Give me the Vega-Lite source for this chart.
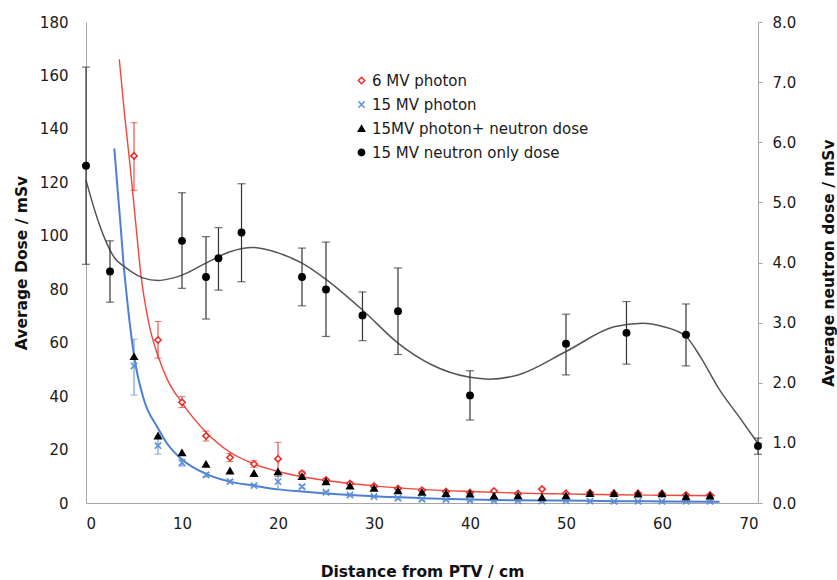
{
  "$schema": "https://vega.github.io/schema/vega-lite/v6.json",
  "width": 672,
  "height": 481,
  "autosize": {"type": "none"},
  "padding": {"left": 86, "top": 22, "right": 79, "bottom": 77},
  "background": "white",
  "config": {
    "view": {"stroke": null},
    "font": "DejaVu Sans",
    "axis": {
      "grid": false,
      "domainColor": "#a6a6a6",
      "labelColor": "#1a1a1a",
      "labelFontSize": 15,
      "titleFontSize": 15.5,
      "titleFontWeight": "bold",
      "titleColor": "#111111",
      "tickColor": "#a6a6a6"
    },
    "legend": {
      "orient": "none",
      "legendX": 268,
      "legendY": 51,
      "title": null,
      "labelFontSize": 15,
      "labelColor": "#1a1a1a",
      "labelOffset": 3,
      "labelLimit": 0,
      "rowPadding": 8,
      "symbolSize": 40,
      "symbolStrokeWidth": 1.5
    }
  },
  "datasets": {
    "pts": [
      {"s": "6 MV photon", "x": 5, "y": 129.9, "lo": 117, "hi": 142.3},
      {"s": "6 MV photon", "x": 7.5, "y": 61, "lo": 54.2, "hi": 67.9},
      {"s": "6 MV photon", "x": 10, "y": 37.7, "lo": 35.7, "hi": 39.8},
      {"s": "6 MV photon", "x": 12.5, "y": 25.1, "lo": 23.2, "hi": 26.9},
      {"s": "6 MV photon", "x": 15, "y": 17.0, "lo": 15.5, "hi": 18.5},
      {"s": "6 MV photon", "x": 17.5, "y": 14.6, "lo": 13.4, "hi": 15.8},
      {"s": "6 MV photon", "x": 20, "y": 16.5, "lo": 10, "hi": 22.7},
      {"s": "6 MV photon", "x": 22.5, "y": 11.1, "lo": 10.3, "hi": 11.9},
      {"s": "6 MV photon", "x": 25, "y": 8.6, "lo": 8.0, "hi": 9.2},
      {"s": "6 MV photon", "x": 27.5, "y": 7.3, "lo": 6.8, "hi": 7.8},
      {"s": "6 MV photon", "x": 30, "y": 6.3, "lo": 5.8, "hi": 6.8},
      {"s": "6 MV photon", "x": 32.5, "y": 5.4, "lo": 5.0, "hi": 5.8},
      {"s": "6 MV photon", "x": 35, "y": 4.8, "lo": 4.4, "hi": 5.2},
      {"s": "6 MV photon", "x": 37.5, "y": 4.3, "lo": 4.0, "hi": 4.6},
      {"s": "6 MV photon", "x": 40, "y": 3.9, "lo": 3.6, "hi": 4.2},
      {"s": "6 MV photon", "x": 42.5, "y": 4.5, "lo": 4.2, "hi": 4.8},
      {"s": "6 MV photon", "x": 45, "y": 3.5, "lo": 3.2, "hi": 3.8},
      {"s": "6 MV photon", "x": 47.5, "y": 5.2, "lo": 4.9, "hi": 5.5},
      {"s": "6 MV photon", "x": 50, "y": 3.6, "lo": 3.3, "hi": 3.9},
      {"s": "6 MV photon", "x": 52.5, "y": 3.8, "lo": 3.5, "hi": 4.1},
      {"s": "6 MV photon", "x": 55, "y": 3.6, "lo": 3.3, "hi": 3.9},
      {"s": "6 MV photon", "x": 57.5, "y": 3.6, "lo": 3.3, "hi": 3.9},
      {"s": "6 MV photon", "x": 60, "y": 3.5, "lo": 3.2, "hi": 3.8},
      {"s": "6 MV photon", "x": 62.5, "y": 3.0, "lo": 2.7, "hi": 3.3},
      {"s": "6 MV photon", "x": 65, "y": 3.0, "lo": 2.7, "hi": 3.3},
      {"s": "15 MV photon", "x": 5, "y": 51.3, "lo": 40.4, "hi": 61.3},
      {"s": "15 MV photon", "x": 7.5, "y": 21.5, "lo": 18.3, "hi": 25.1},
      {"s": "15 MV photon", "x": 10, "y": 15.1, "lo": 13.8, "hi": 16.4},
      {"s": "15 MV photon", "x": 12.5, "y": 10.5, "lo": 9.8, "hi": 11.3},
      {"s": "15 MV photon", "x": 15, "y": 8.0, "lo": 7.5, "hi": 8.6},
      {"s": "15 MV photon", "x": 17.5, "y": 6.5, "lo": 6.1, "hi": 6.9},
      {"s": "15 MV photon", "x": 20, "y": 8.0, "lo": 5.0, "hi": 10.0},
      {"s": "15 MV photon", "x": 22.5, "y": 6.1, "lo": 5.6, "hi": 6.6},
      {"s": "15 MV photon", "x": 25, "y": 4.0, "lo": 3.7, "hi": 4.3},
      {"s": "15 MV photon", "x": 27.5, "y": 3.0, "lo": 2.7, "hi": 3.3},
      {"s": "15 MV photon", "x": 30, "y": 2.4, "lo": 2.1, "hi": 2.7},
      {"s": "15 MV photon", "x": 32.5, "y": 1.8, "lo": 1.5, "hi": 2.1},
      {"s": "15 MV photon", "x": 35, "y": 1.4, "lo": 1.1, "hi": 1.7},
      {"s": "15 MV photon", "x": 37.5, "y": 1.3, "lo": 1.0, "hi": 1.6},
      {"s": "15 MV photon", "x": 40, "y": 0.9, "lo": 0.6, "hi": 1.2},
      {"s": "15 MV photon", "x": 42.5, "y": 0.8, "lo": 0.5, "hi": 1.1},
      {"s": "15 MV photon", "x": 45, "y": 0.8, "lo": 0.5, "hi": 1.1},
      {"s": "15 MV photon", "x": 47.5, "y": 0.7, "lo": 0.4, "hi": 1.0},
      {"s": "15 MV photon", "x": 50, "y": 0.8, "lo": 0.5, "hi": 1.1},
      {"s": "15 MV photon", "x": 52.5, "y": 0.7, "lo": 0.4, "hi": 1.0},
      {"s": "15 MV photon", "x": 55, "y": 0.6, "lo": 0.3, "hi": 0.9},
      {"s": "15 MV photon", "x": 57.5, "y": 0.6, "lo": 0.3, "hi": 0.9},
      {"s": "15 MV photon", "x": 60, "y": 0.6, "lo": 0.3, "hi": 0.9},
      {"s": "15 MV photon", "x": 62.5, "y": 0.6, "lo": 0.3, "hi": 0.9},
      {"s": "15 MV photon", "x": 65, "y": 0.6, "lo": 0.3, "hi": 0.9},
      {"s": "15MV photon+ neutron dose", "x": 5, "y": 54.8},
      {"s": "15MV photon+ neutron dose", "x": 7.5, "y": 25.1},
      {"s": "15MV photon+ neutron dose", "x": 10, "y": 18.8},
      {"s": "15MV photon+ neutron dose", "x": 12.5, "y": 14.5},
      {"s": "15MV photon+ neutron dose", "x": 15, "y": 12.0},
      {"s": "15MV photon+ neutron dose", "x": 17.5, "y": 11.1},
      {"s": "15MV photon+ neutron dose", "x": 20, "y": 11.7},
      {"s": "15MV photon+ neutron dose", "x": 22.5, "y": 9.9},
      {"s": "15MV photon+ neutron dose", "x": 25, "y": 8.0},
      {"s": "15MV photon+ neutron dose", "x": 27.5, "y": 6.4},
      {"s": "15MV photon+ neutron dose", "x": 30, "y": 5.5},
      {"s": "15MV photon+ neutron dose", "x": 32.5, "y": 4.6},
      {"s": "15MV photon+ neutron dose", "x": 35, "y": 4.0},
      {"s": "15MV photon+ neutron dose", "x": 37.5, "y": 3.6},
      {"s": "15MV photon+ neutron dose", "x": 40, "y": 3.4},
      {"s": "15MV photon+ neutron dose", "x": 42.5, "y": 2.6},
      {"s": "15MV photon+ neutron dose", "x": 45, "y": 2.7},
      {"s": "15MV photon+ neutron dose", "x": 47.5, "y": 2.1},
      {"s": "15MV photon+ neutron dose", "x": 50, "y": 2.7},
      {"s": "15MV photon+ neutron dose", "x": 52.5, "y": 3.6},
      {"s": "15MV photon+ neutron dose", "x": 55, "y": 3.6},
      {"s": "15MV photon+ neutron dose", "x": 57.5, "y": 3.4},
      {"s": "15MV photon+ neutron dose", "x": 60, "y": 3.5},
      {"s": "15MV photon+ neutron dose", "x": 62.5, "y": 2.4},
      {"s": "15MV photon+ neutron dose", "x": 65, "y": 2.6}
    ],
    "neutron": [
      {"s": "15 MV neutron only dose", "x": 0, "y": 5.61, "lo": 3.97, "hi": 7.25},
      {"s": "15 MV neutron only dose", "x": 2.5, "y": 3.85, "lo": 3.34, "hi": 4.36},
      {"s": "15 MV neutron only dose", "x": 10, "y": 4.36, "lo": 3.57, "hi": 5.16},
      {"s": "15 MV neutron only dose", "x": 12.5, "y": 3.76, "lo": 3.06, "hi": 4.43},
      {"s": "15 MV neutron only dose", "x": 13.8, "y": 4.07, "lo": 3.54, "hi": 4.58},
      {"s": "15 MV neutron only dose", "x": 16.2, "y": 4.50, "lo": 3.68, "hi": 5.31},
      {"s": "15 MV neutron only dose", "x": 22.5, "y": 3.76, "lo": 3.28, "hi": 4.24},
      {"s": "15 MV neutron only dose", "x": 25, "y": 3.55, "lo": 2.77, "hi": 4.34},
      {"s": "15 MV neutron only dose", "x": 28.8, "y": 3.12, "lo": 2.70, "hi": 3.51},
      {"s": "15 MV neutron only dose", "x": 32.5, "y": 3.19, "lo": 2.47, "hi": 3.91},
      {"s": "15 MV neutron only dose", "x": 40, "y": 1.79, "lo": 1.38, "hi": 2.20},
      {"s": "15 MV neutron only dose", "x": 50, "y": 2.65, "lo": 2.13, "hi": 3.14},
      {"s": "15 MV neutron only dose", "x": 56.3, "y": 2.83, "lo": 2.31, "hi": 3.35},
      {"s": "15 MV neutron only dose", "x": 62.5, "y": 2.80, "lo": 2.28, "hi": 3.31},
      {"s": "15 MV neutron only dose", "x": 70, "y": 0.95, "lo": 0.81, "hi": 1.08}
    ],
    "fits": [
      {"s": "6 MV photon", "x": 3.47, "y": 166},
      {"s": "6 MV photon", "x": 4.0, "y": 146},
      {"s": "6 MV photon", "x": 4.6, "y": 126},
      {"s": "6 MV photon", "x": 5.2, "y": 104},
      {"s": "6 MV photon", "x": 5.7, "y": 86},
      {"s": "6 MV photon", "x": 6.5, "y": 68},
      {"s": "6 MV photon", "x": 7.5, "y": 55},
      {"s": "6 MV photon", "x": 8.5, "y": 46},
      {"s": "6 MV photon", "x": 10, "y": 37.5},
      {"s": "6 MV photon", "x": 12.5, "y": 26.5},
      {"s": "6 MV photon", "x": 15, "y": 19},
      {"s": "6 MV photon", "x": 17.5, "y": 14.6},
      {"s": "6 MV photon", "x": 20, "y": 11.8},
      {"s": "6 MV photon", "x": 22.5, "y": 9.8},
      {"s": "6 MV photon", "x": 25, "y": 8.4},
      {"s": "6 MV photon", "x": 30, "y": 6.4},
      {"s": "6 MV photon", "x": 35, "y": 5.1},
      {"s": "6 MV photon", "x": 40, "y": 4.3},
      {"s": "6 MV photon", "x": 45, "y": 3.7},
      {"s": "6 MV photon", "x": 50, "y": 3.4},
      {"s": "6 MV photon", "x": 55, "y": 3.1},
      {"s": "6 MV photon", "x": 60, "y": 2.9},
      {"s": "6 MV photon", "x": 65.5, "y": 2.7},
      {"s": "15 MV photon", "x": 2.95, "y": 132.7},
      {"s": "15 MV photon", "x": 3.3, "y": 117},
      {"s": "15 MV photon", "x": 3.6, "y": 104},
      {"s": "15 MV photon", "x": 3.9, "y": 90},
      {"s": "15 MV photon", "x": 4.2, "y": 79},
      {"s": "15 MV photon", "x": 4.6, "y": 66},
      {"s": "15 MV photon", "x": 5.1, "y": 53},
      {"s": "15 MV photon", "x": 6.0, "y": 39},
      {"s": "15 MV photon", "x": 7.5, "y": 28},
      {"s": "15 MV photon", "x": 8.5, "y": 22},
      {"s": "15 MV photon", "x": 10, "y": 16.3},
      {"s": "15 MV photon", "x": 12.5, "y": 10.9},
      {"s": "15 MV photon", "x": 15, "y": 8.0},
      {"s": "15 MV photon", "x": 17.5, "y": 6.5},
      {"s": "15 MV photon", "x": 20, "y": 5.1},
      {"s": "15 MV photon", "x": 22.5, "y": 4.3},
      {"s": "15 MV photon", "x": 25, "y": 3.6},
      {"s": "15 MV photon", "x": 30, "y": 2.5},
      {"s": "15 MV photon", "x": 35, "y": 1.8},
      {"s": "15 MV photon", "x": 40, "y": 1.3},
      {"s": "15 MV photon", "x": 45, "y": 1.0},
      {"s": "15 MV photon", "x": 50, "y": 0.9},
      {"s": "15 MV photon", "x": 55, "y": 0.7},
      {"s": "15 MV photon", "x": 60, "y": 0.6},
      {"s": "15 MV photon", "x": 66, "y": 0.5}
    ],
    "nfit": [
      {"x": 0, "y": 5.37},
      {"x": 1, "y": 4.82},
      {"x": 2, "y": 4.38},
      {"x": 3, "y": 4.07},
      {"x": 4, "y": 3.93},
      {"x": 5, "y": 3.82},
      {"x": 6, "y": 3.74},
      {"x": 7.5, "y": 3.70},
      {"x": 9, "y": 3.74},
      {"x": 10, "y": 3.79},
      {"x": 12.5, "y": 3.99},
      {"x": 15, "y": 4.18},
      {"x": 17.4, "y": 4.25},
      {"x": 20, "y": 4.16},
      {"x": 22.5, "y": 3.99},
      {"x": 25, "y": 3.72},
      {"x": 28.8, "y": 3.21},
      {"x": 32.5, "y": 2.66},
      {"x": 36, "y": 2.30},
      {"x": 40, "y": 2.09},
      {"x": 42, "y": 2.06},
      {"x": 45, "y": 2.13},
      {"x": 50, "y": 2.52},
      {"x": 55, "y": 2.93},
      {"x": 58, "y": 2.99},
      {"x": 60, "y": 2.94},
      {"x": 62.5, "y": 2.77},
      {"x": 64, "y": 2.43},
      {"x": 66, "y": 1.88},
      {"x": 68, "y": 1.44},
      {"x": 70, "y": 0.99}
    ]
  },
  "layer": [
    {
      "layer": [
        {
          "data": {"name": "fits"},
          "transform": [{"filter": "datum.s == '6 MV photon'"}],
          "mark": {"type": "line", "color": "#f0463c", "strokeWidth": 1.4, "interpolate": "monotone"},
          "encoding": {
            "x": {"field": "x", "type": "quantitative", "title": "Distance from PTV / cm", "scale": {"domain": [0, 70], "nice": false},
              "axis": {"values": [0, 10, 20, 30, 40, 50, 60, 70], "ticks": false, "labelPadding": 13, "titlePadding": 33}},
            "y": {"field": "y", "type": "quantitative", "title": "Average Dose / mSv", "scale": {"domain": [0, 180], "nice": false},
              "axis": {"orient": "left", "values": [0, 20, 40, 60, 80, 100, 120, 140, 160, 180], "ticks": false, "labelPadding": 18, "titlePadding": 10}}
          }
        },
        {
          "data": {"name": "fits"},
          "transform": [{"filter": "datum.s == '15 MV photon'"}],
          "mark": {"type": "line", "color": "#4d80d2", "strokeWidth": 2, "interpolate": "monotone"},
          "encoding": {
            "x": {"field": "x", "type": "quantitative", "title": "Distance from PTV / cm"},
            "y": {"field": "y", "type": "quantitative", "title": "Average Dose / mSv"}
          }
        },
        {
          "data": {"name": "pts"},
          "transform": [{"filter": "datum.s == '6 MV photon'"}],
          "mark": {"type": "errorbar", "color": "#e8302a", "thickness": 1, "ticks": {"size": 7}},
          "encoding": {
            "x": {"field": "x", "type": "quantitative", "title": "Distance from PTV / cm"},
            "y": {"field": "lo", "type": "quantitative", "title": "Average Dose / mSv"},
            "y2": {"field": "hi"}
          }
        },
        {
          "data": {"name": "pts"},
          "transform": [{"filter": "datum.s == '15 MV photon'"}],
          "mark": {"type": "errorbar", "color": "#5b8fd8", "thickness": 1, "ticks": {"size": 7}},
          "encoding": {
            "x": {"field": "x", "type": "quantitative", "title": "Distance from PTV / cm"},
            "y": {"field": "lo", "type": "quantitative", "title": "Average Dose / mSv"},
            "y2": {"field": "hi"}
          }
        },
        {
          "data": {"name": "pts"},
          "mark": {"type": "point", "filled": false, "strokeWidth": 1.6, "size": 40, "opacity": 1},
          "encoding": {
            "x": {"field": "x", "type": "quantitative", "title": "Distance from PTV / cm"},
            "y": {"field": "y", "type": "quantitative", "title": "Average Dose / mSv"},
            "shape": {"field": "s", "type": "nominal",
              "scale": {"domain": ["6 MV photon", "15 MV photon", "15MV photon+ neutron dose", "15 MV neutron only dose"],
                "range": ["diamond", "M-1,-1L1,1M-1,1L1,-1", "triangle-up", "circle"]}},
            "color": {"field": "s", "type": "nominal",
              "scale": {"domain": ["6 MV photon", "15 MV photon", "15MV photon+ neutron dose", "15 MV neutron only dose"],
                "range": ["#e8302a", "#5b8fd8", "#000000", "#000000"]}},
            "fill": {"field": "s", "type": "nominal",
              "scale": {"domain": ["6 MV photon", "15 MV photon", "15MV photon+ neutron dose", "15 MV neutron only dose"],
                "range": ["#ffffff", "#ffffff", "#000000", "#000000"]}}
          }
        }
      ]
    },
    {
      "layer": [
        {
          "data": {"name": "nfit"},
          "mark": {"type": "line", "color": "#555555", "strokeWidth": 1.5, "interpolate": "monotone"},
          "encoding": {
            "x": {"field": "x", "type": "quantitative", "title": "Distance from PTV / cm"},
            "y": {"field": "y", "type": "quantitative", "title": "Average neutron dose / mSv", "scale": {"domain": [0, 8], "nice": false},
              "axis": {"orient": "right", "values": [0, 1, 2, 3, 4, 5, 6, 7, 8], "format": ".1f", "tickSize": 4, "labelPadding": 10, "titlePadding": 26, "titleAngle": 270, "titleBaseline": "top"}}
          }
        },
        {
          "data": {"name": "neutron"},
          "mark": {"type": "errorbar", "color": "#333333", "thickness": 1.2, "ticks": {"size": 8}},
          "encoding": {
            "x": {"field": "x", "type": "quantitative", "title": "Distance from PTV / cm"},
            "y": {"field": "lo", "type": "quantitative", "title": "Average neutron dose / mSv"},
            "y2": {"field": "hi"}
          }
        },
        {
          "data": {"name": "neutron"},
          "mark": {"type": "point", "filled": false, "strokeWidth": 1.6, "size": 40, "opacity": 1},
          "encoding": {
            "x": {"field": "x", "type": "quantitative", "title": "Distance from PTV / cm"},
            "y": {"field": "y", "type": "quantitative", "title": "Average neutron dose / mSv"},
            "shape": {"field": "s", "type": "nominal",
              "scale": {"domain": ["6 MV photon", "15 MV photon", "15MV photon+ neutron dose", "15 MV neutron only dose"],
                "range": ["diamond", "M-1,-1L1,1M-1,1L1,-1", "triangle-up", "circle"]}},
            "color": {"field": "s", "type": "nominal",
              "scale": {"domain": ["6 MV photon", "15 MV photon", "15MV photon+ neutron dose", "15 MV neutron only dose"],
                "range": ["#e8302a", "#5b8fd8", "#000000", "#000000"]}},
            "fill": {"field": "s", "type": "nominal",
              "scale": {"domain": ["6 MV photon", "15 MV photon", "15MV photon+ neutron dose", "15 MV neutron only dose"],
                "range": ["#ffffff", "#ffffff", "#000000", "#000000"]}}
          }
        }
      ]
    }
  ],
  "resolve": {"scale": {"y": "independent"}}
}
